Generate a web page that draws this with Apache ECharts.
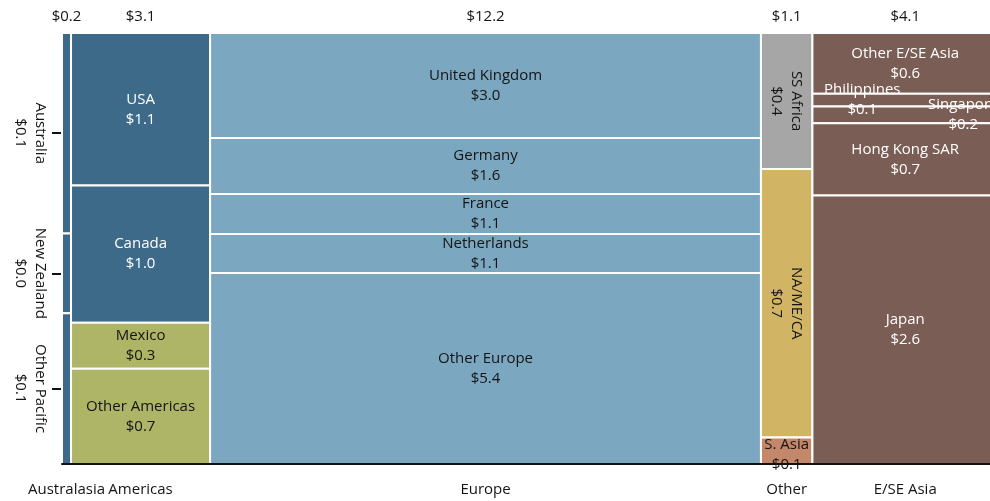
<!DOCTYPE html>
<html>
<head>
<meta charset="utf-8">
<script src="https://cdn.jsdelivr.net/npm/echarts@6/dist/echarts.min.js"></script>
<style>
  html, body { margin: 0; padding: 0; background: #fff; }
  #chart { width: 990px; height: 501px; }
</style>
</head>
<body>
<div id="chart"></div>
<script>
// Regions (columns) and the pieces inside each one, $ values
const regions = ['Australasia', 'Americas', 'Europe', 'Other', 'E/SE Asia'];

const australasiaNames = ['Australia', 'New Zealand', 'Other Pacific'];
const australasiaValues = [0.093, 0.037, 0.070];

const americasNames = ['USA', 'Canada', 'Mexico', 'Other Americas'];
const americasValues = [1.09, 0.98, 0.33, 0.68];

const europeNames = ['United Kingdom', 'Germany', 'France', 'Netherlands', 'Other Europe'];
const europeValues = [2.97, 1.59, 1.13, 1.10, 5.41];

const otherNames = ['SS Africa', 'NA/ME/CA', 'S. Asia'];
const otherValues = [0.36, 0.71, 0.07];

const asiaNames = ['Other E/SE Asia', 'Philippines', 'Singapore', 'Hong Kong SAR', 'Japan'];
const asiaValues = [0.58, 0.12, 0.16, 0.69, 2.56];

const groupNames = [australasiaNames, americasNames, europeNames, otherNames, asiaNames];
const groupValues = [australasiaValues, americasValues, europeValues, otherValues, asiaValues];

// Fill / text colours
const DARK_BLUE = '#3e6a89';
const LIGHT_BLUE = '#7ca7c0';
const OLIVE = '#aeb566';
const GREY = '#a6a6a6';
const GOLD = '#d1b564';
const TERRA = '#c4876a';
const BROWN = '#7a5d55';
const INK = '#141414';

const segStyle = {
  'Australia': { fill: DARK_BLUE, outside: true },
  'New Zealand': { fill: DARK_BLUE, outside: true },
  'Other Pacific': { fill: DARK_BLUE, outside: true },
  'USA': { fill: DARK_BLUE, text: '#fff' },
  'Canada': { fill: DARK_BLUE, text: '#fff' },
  'Mexico': { fill: OLIVE, text: INK },
  'Other Americas': { fill: OLIVE, text: INK },
  'United Kingdom': { fill: LIGHT_BLUE, text: INK },
  'Germany': { fill: LIGHT_BLUE, text: INK },
  'France': { fill: LIGHT_BLUE, text: INK },
  'Netherlands': { fill: LIGHT_BLUE, text: INK },
  'Other Europe': { fill: LIGHT_BLUE, text: INK },
  'SS Africa': { fill: GREY, text: INK, vertical: true },
  'NA/ME/CA': { fill: GOLD, text: INK, vertical: true },
  'S. Asia': { fill: TERRA, text: INK, dy: 4 },
  'Other E/SE Asia': { fill: BROWN, text: '#fff' },
  'Philippines': { fill: BROWN, text: '#fff', dx: -43 },
  'Singapore': { fill: BROWN, text: '#fff', dx: 58 },
  'Hong Kong SAR': { fill: BROWN, text: '#fff' },
  'Japan': { fill: BROWN, text: '#fff' }
};

const FONT = '"Open Sans", "DejaVu Sans", sans-serif';
const FONT_SIZE = 15;
const money = v => '$' + v.toFixed(1);
const sum = arr => arr.reduce((a, b) => a + b, 0);

// Column spans along x, piece spans along y (share of column, stacked top-down)
const totals = groupValues.map(sum);
const grandTotal = sum(totals);
const segments = [];
const colCenters = [];
let xStart = 0;
groupValues.forEach((vals, gi) => {
  const xEnd = xStart + totals[gi];
  colCenters.push((xStart + xEnd) / 2);
  let acc = 0;
  vals.forEach((v, si) => {
    const yTop = 1 - acc / totals[gi];
    acc += v;
    const yBottom = 1 - acc / totals[gi];
    segments.push([xStart, xEnd, yBottom, yTop, gi, si]);
  });
  xStart = xEnd;
});

// Tick positions beside the narrow Australasia column
const australasiaCenters = segments.filter(s => s[4] === 0).map(s => (s[2] + s[3]) / 2);

function nearestIndex(list, v) {
  let best = 0;
  list.forEach((c, i) => { if (Math.abs(c - v) < Math.abs(list[best] - v)) best = i; });
  return best;
}

function cellBox(api) {
  const p0 = api.coord([api.value(0), api.value(3)]);
  const p1 = api.coord([api.value(1), api.value(2)]);
  return { x: p0[0], y: p0[1], w: p1[0] - p0[0], h: p1[1] - p0[1] };
}

// Tiles
function renderTile(params, api) {
  const b = cellBox(api);
  const st = segStyle[groupNames[api.value(4)][api.value(5)]];
  return {
    type: 'rect',
    shape: { x: b.x, y: b.y, width: b.w, height: b.h },
    style: { fill: st.fill, stroke: '#fff', lineWidth: 2 }
  };
}

// Labels, drawn above every tile
function renderLabel(params, api) {
  const b = cellBox(api);
  const gi = api.value(4), si = api.value(5);
  const name = groupNames[gi][si];
  const st = segStyle[name];
  const label = name + '\n' + money(groupValues[gi][si]);
  const cy = b.y + b.h / 2 + (st.dy || 0);
  const cx = st.outside ? b.x - 32 : b.x + b.w / 2 + (st.dx || 0);
  return {
    type: 'text',
    x: cx, y: cy,
    rotation: (st.outside || st.vertical) ? -Math.PI / 2 : 0,
    style: { text: label, x: 0, y: 0, align: 'center', verticalAlign: 'middle',
             fill: st.outside ? INK : st.text, font: FONT_SIZE + 'px ' + FONT, lineHeight: 20 }
  };
}

const chart = echarts.init(document.getElementById('chart'), null, { renderer: 'canvas' });
chart.setOption({
  animation: false,
  backgroundColor: '#fff',
  grid: { left: 62, width: 936, top: 33, bottom: 37, containLabel: false, outerBoundsMode: 'none' },
  xAxis: [{
    type: 'value', min: 0, max: grandTotal, position: 'bottom', z: 10,
    splitLine: { show: false },
    axisLine: { show: true, lineStyle: { color: '#111', width: 2 } },
    axisTick: { show: false },
    axisLabel: {
      customValues: colCenters, margin: 18, color: INK, fontSize: FONT_SIZE, fontFamily: FONT,
      formatter: v => regions[nearestIndex(colCenters, v)]
    }
  }, {
    type: 'value', min: 0, max: grandTotal, position: 'top',
    splitLine: { show: false },
    axisLine: { show: false },
    axisTick: { show: false },
    axisLabel: {
      customValues: colCenters, margin: 9, color: INK, fontSize: FONT_SIZE, fontFamily: FONT,
      formatter: v => money(totals[nearestIndex(colCenters, v)])
    }
  }],
  yAxis: {
    type: 'value', min: 0, max: 1,
    splitLine: { show: false },
    axisLine: { show: false },
    axisLabel: { show: false },
    axisTick: { show: true, customValues: australasiaCenters, length: 10,
                lineStyle: { color: '#111', width: 2 } }
  },
  series: [{
    type: 'custom',
    renderItem: renderTile,
    data: segments,
    encode: { x: [0, 1], y: [2, 3] },
    clip: false,
    z: 2
  }, {
    type: 'custom',
    renderItem: renderLabel,
    data: segments,
    encode: { x: [0, 1], y: [2, 3] },
    clip: false,
    z: 20
  }]
});
</script>
</body>
</html>
